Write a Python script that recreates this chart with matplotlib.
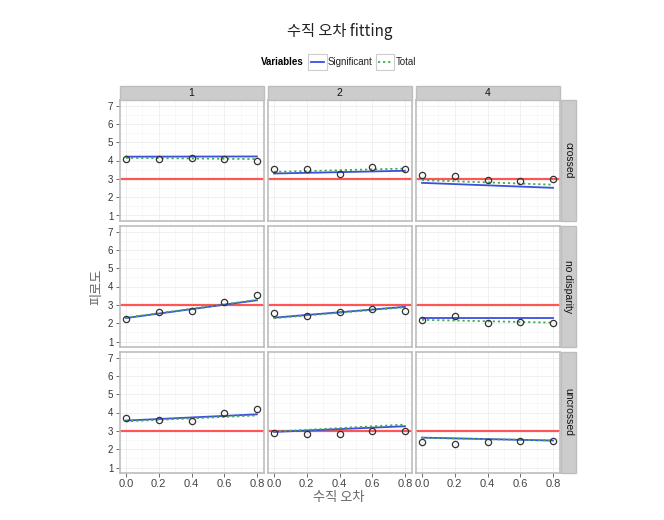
import matplotlib
matplotlib.use('Agg')
import matplotlib.pyplot as plt
from matplotlib.lines import Line2D
from matplotlib.patches import Rectangle
import numpy as np

plt.rcParams['font.family'] = ['Noto Sans CJK KR', 'DejaVu Sans']

# facet levels
col_levels = ['1', '2', '4']
row_levels = ['crossed', 'no disparity', 'uncrossed']
x_vals = [0.0, 0.2, 0.4, 0.6, 0.8]
ref_level = 3

# observed points, one list per column
pts_crossed = [[4.1, 4.1, 4.15, 4.1, 4.0],
               [3.53, 3.53, 3.26, 3.65, 3.53],
               [3.2, 3.15, 2.95, 2.9, 3.0]]
pts_nodisp = [[2.23, 2.62, 2.64, 3.16, 3.56],
              [2.54, 2.39, 2.59, 2.75, 2.64],
              [2.16, 2.37, 2.01, 2.06, 2.03]]
pts_uncrossed = [[3.70, 3.59, 3.55, 4.0, 4.2],
                 [2.87, 2.85, 2.82, 2.98, 2.98],
                 [2.38, 2.30, 2.39, 2.45, 2.47]]

# fitted lines (value at x=0, value at x=0.8)
sig_crossed = [(4.21, 4.22), (3.29, 3.44), (2.78, 2.51)]
sig_nodisp = [(2.28, 3.25), (2.30, 2.89), (2.30, 2.30)]
sig_uncrossed = [(3.56, 3.90), (2.94, 3.25), (2.63, 2.47)]
tot_crossed = [(4.14, 4.08), (3.38, 3.56), (2.93, 2.68)]
tot_nodisp = [(2.30, 3.27), (2.27, 2.87), (2.18, 2.03)]
tot_uncrossed = [(3.52, 3.84), (2.96, 3.34), (2.62, 2.47)]

points = [pts_crossed, pts_nodisp, pts_uncrossed]
sig = [sig_crossed, sig_nodisp, sig_uncrossed]
tot = [tot_crossed, tot_nodisp, tot_uncrossed]

blue = '#3a4fe0'
green = '#3fae49'
red = '#ff5555'
border = '#bdbdbd'
strip_fill = '#cccccc'
dotted = (0, (1.2, 1.6))
latin = 'Liberation Sans'

W, H = 664, 520
fig = plt.figure(figsize=(W / 100, H / 100), dpi=100)

col_left = [119.5, 267.5, 415.5]
pw = 144
row_top = [100, 226, 352]
ph = 121

def fx(px):
    return px / W

def fy(py):
    return 1 - py / H

for r, rname in enumerate(row_levels):
    for c, cname in enumerate(col_levels):
        ax = fig.add_axes([fx(col_left[c]), fy(row_top[r] + ph), pw / W, ph / H])
        ax.set_xlim(-0.04, 0.84)
        ax.set_ylim(0.7, 7.3)
        ax.set_xticks(x_vals)
        ax.set_xticks([0.1, 0.3, 0.5, 0.7], minor=True)
        ax.set_yticks(range(1, 8))
        ax.set_yticks(np.arange(1.5, 7, 1), minor=True)
        ax.grid(which='major', color='#eeeeee', lw=0.6)
        ax.grid(which='minor', color='#f6f6f6', lw=0.5)
        ax.set_axisbelow(True)
        for s in ax.spines.values():
            s.set_color(border)
            s.set_linewidth(1.2)
        ax.tick_params(which='minor', length=0)
        ax.tick_params(which='major', length=3, color='#555555', width=0.6,
                       labelcolor='#333333')
        if c == 0:
            ax.set_yticklabels([str(v) for v in range(1, 8)], fontsize=7,
                               family=latin)
            ax.tick_params(axis='y', pad=1.5)
        else:
            ax.tick_params(axis='y', left=False, labelleft=False)
        if r == 2:
            ax.set_xticklabels(['%.1f' % v for v in x_vals], fontsize=8,
                               family=latin, color='#444444')
            ax.tick_params(axis='x', pad=1.5)
        else:
            ax.tick_params(axis='x', bottom=False, labelbottom=False)

        ax.axhline(ref_level, color=red, lw=1.6, zorder=2)
        s0, s1 = sig[r][c]
        t0, t1 = tot[r][c]
        ax.plot([x_vals[0], x_vals[-1]], [s0, s1], color=blue, lw=1.3, zorder=3)
        ax.plot([x_vals[0], x_vals[-1]], [t0, t1], color=green, lw=1.3,
                ls=dotted, zorder=4)
        ax.plot(x_vals, points[r][c], 'o', mfc='none', mec='#333333',
                ms=4.5, mew=0.9, zorder=5)

        # top strips
        if r == 0:
            fig.patches.append(Rectangle((fx(col_left[c]), fy(100)), pw / W, 14 / H,
                                         transform=fig.transFigure, fc=strip_fill,
                                         ec=border, lw=1))
            fig.text(fx(col_left[c] + pw / 2), fy(93), cname, ha='center',
                     va='center', fontsize=7.5, color='#111111', family=latin)
        # right strips
        if c == 2:
            fig.patches.append(Rectangle((fx(560.5), fy(row_top[r] + ph)), 15 / W, ph / H,
                                         transform=fig.transFigure, fc=strip_fill,
                                         ec=border, lw=1))
            fig.text(fx(568), fy(row_top[r] + ph / 2), rname, ha='center',
                     va='center', rotation=270, fontsize=7.5, color='#111111',
                     family=latin)

fig.text(fx(340), fy(31), '수직 오차 fitting', ha='center', va='center',
         fontsize=11, color='#222222', family=['Noto Sans CJK KR', latin])
fig.text(fx(339), fy(497), '수직 오차', ha='center', va='center',
         fontsize=9.5, color='#666666')
fig.text(fx(97), fy(287), '피로도', ha='center', va='center', rotation=90,
         fontsize=9.5, color='#666666')

# legend (ggplot-style horizontal guide with boxed keys)
fig.text(fx(304), fy(62), 'Variables', ha='right', va='center', fontsize=7,
         fontweight='bold', family=latin)
leg_items = [('Significant', blue, '-', 308), ('Total', green, dotted, 375.5)]
for label, col, ls, kx in leg_items:
    fig.patches.append(Rectangle((fx(kx), fy(70)), 18.5 / W, 16 / H,
                                 transform=fig.transFigure, fc='white',
                                 ec='#cccccc', lw=0.8))
    fig.lines.append(Line2D([fx(kx + 2.5), fx(kx + 16)], [fy(62), fy(62)],
                            transform=fig.transFigure, color=col, lw=1.3, ls=ls))
    fig.text(fx(kx + 20), fy(62), label, ha='left', va='center', fontsize=7,
             family=latin, color='#222222')

fig.savefig('out.png', dpi=100)
